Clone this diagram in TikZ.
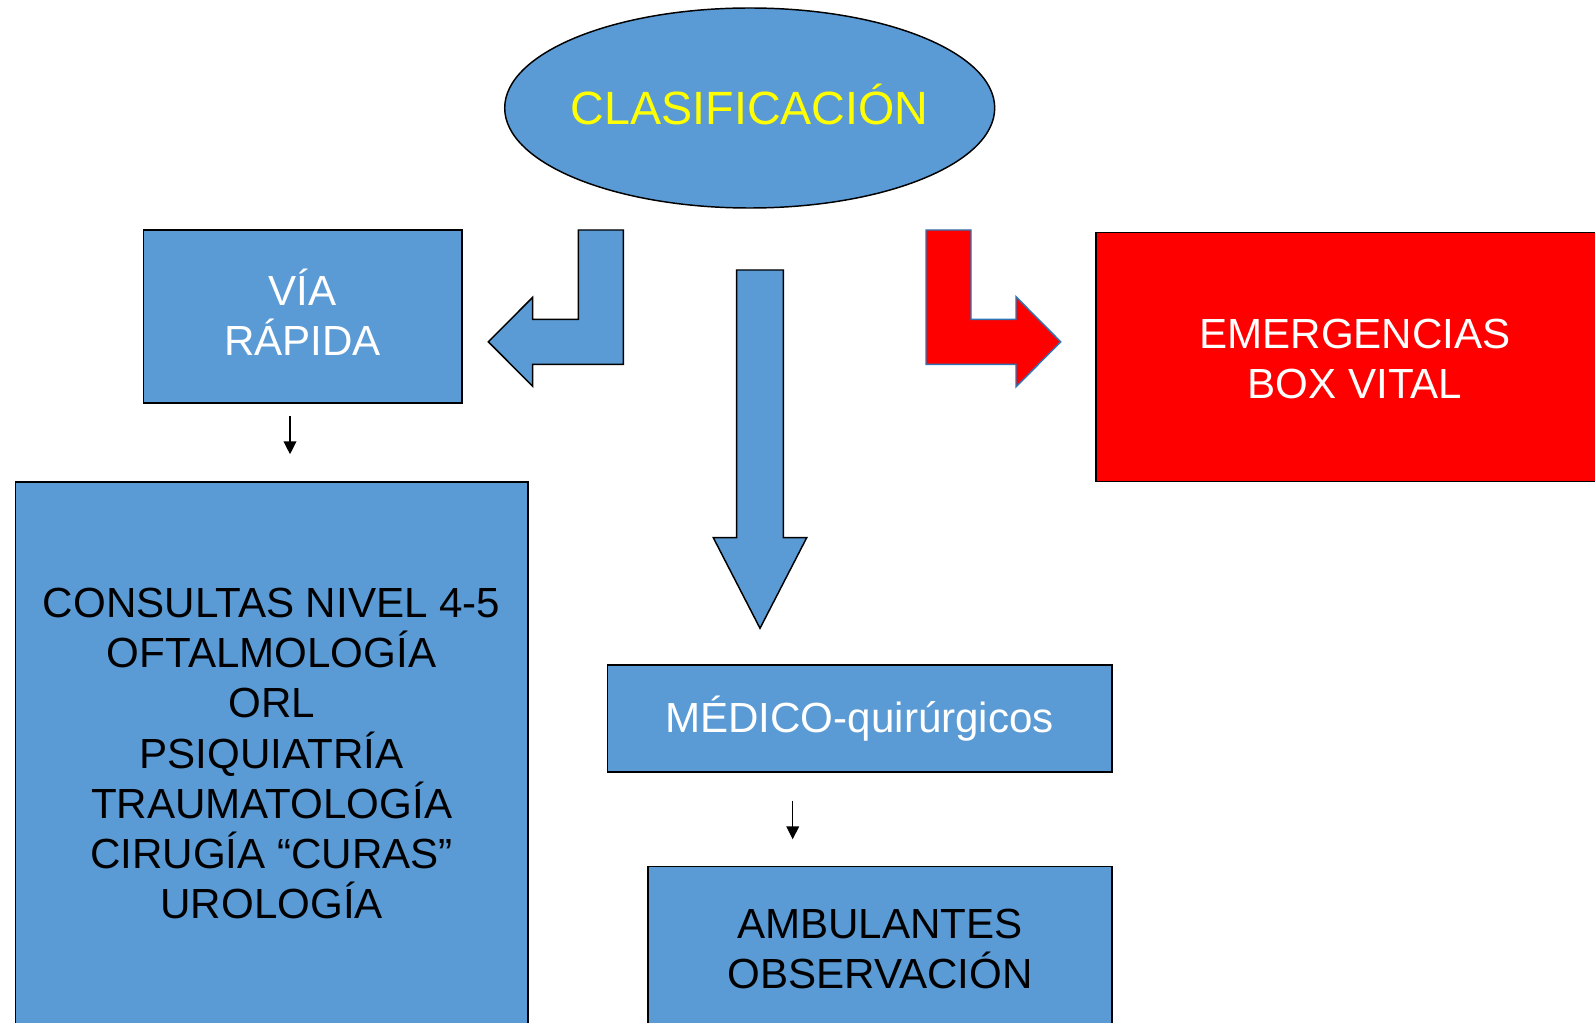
\documentclass[tikz,border=0pt]{standalone}
\usepackage{fontspec}
\setmainfont{Liberation Sans}
\usetikzlibrary{shapes.geometric,arrows.meta}
\definecolor{boxblue}{HTML}{5B9BD5}
\definecolor{arrowred}{HTML}{FF0000}
\definecolor{outblue}{HTML}{2F75B5}
\definecolor{txtyellow}{HTML}{FFFF00}
\tikzset{
  box/.style={draw=black, line width=1.1pt, fill=boxblue, rectangle, inner sep=0pt, align=center,
              font=\fontsize{31.6}{37.7}\selectfont},
  blockarrow/.style={draw=black, line width=1.1pt, fill=boxblue, line join=miter},
  smallarrow/.style={draw=black, line width=1.1pt, -{Triangle[length=9.75pt,width=9.5pt]}},
}
\begin{document}
\begin{tikzpicture}[x=0.75pt,y=-0.75pt]
\useasboundingbox (0,0) rectangle (1595,1023);
\clip (0,0) rectangle (1595,1023);
% ellipse
\node[ellipse, draw=black, line width=1.1pt, fill=boxblue, minimum width=367.5pt, minimum height=150pt, inner sep=0pt,
      text=txtyellow, font=\fontsize{35}{42}\selectfont, text height=25.1pt, text depth=0pt] (clas) at (749.7,108)
      {\makebox[0pt][c]{CLASIFICACIÓN}};
% boxes
\node[box, text=white, minimum width=238.8pt, minimum height=129.7pt] (via) at (302.6,316.35) {V\smash{Í}A\\RÁPIDA};
\node[box, text=black, minimum width=384.5pt, minimum height=407.25pt] (consultas) at (271.65,753.5)
  {CONSULTAS NIVEL 4-5\\OFTALMOLOGÍA\\ORL\\PSIQUIATRÍA\\TRAUMATOLOGÍA\\CIRUGÍA “CURAS”\\UROLOGÍA};
\node[box, text=white, minimum width=378.4pt, minimum height=80.2pt] (medico) at (859.55,718.65) {MÉDICO-quirúrgicos};
\node[box, text=black, minimum width=347.85pt, minimum height=118.7pt] (ambul) at (879.9,945.85) {\rule{0pt}{26.6pt}AMBULANTES\\OBSERVACIÓN};
\node[box, fill=arrowred, text=white, minimum width=388.5pt, minimum height=187.05pt] (emerg) at (1355,357) {\rule{0pt}{25.5pt}EMERGENCIAS\\BOX VITAL};
% block arrows
\draw[blockarrow] (578.3,230) -- (623.3,230) -- (623.3,364.3) -- (532.7,364.3) -- (532.7,386.3)
  -- (488.3,341.8) -- (532.7,297.3) -- (532.7,319.3) -- (578.3,319.3) -- cycle;
\draw[blockarrow, fill=arrowred, draw=outblue] (926,230) -- (971,230) -- (971,319.3) -- (1016,319.3) -- (1016,296.7)
  -- (1060.7,341.8) -- (1016,386.9) -- (1016,364.3) -- (926,364.3) -- cycle;
\draw[blockarrow] (736.7,270) -- (783.3,270) -- (783.3,537.7) -- (806.7,537.7) -- (760,628.3)
  -- (713.3,537.7) -- (736.7,537.7) -- cycle;
% small arrows
\coordinate (a1) at (290,0);
\coordinate (a2) at (792.7,0);
\draw[smallarrow, shorten <=9.15pt, shorten >=20.25pt] (via.south -| a1) -- (consultas.north -| a1);
\draw[smallarrow, shorten <=20.9pt, shorten >=20pt] (medico.south -| a2) -- (ambul.north -| a2);
\end{tikzpicture}
\end{document}
